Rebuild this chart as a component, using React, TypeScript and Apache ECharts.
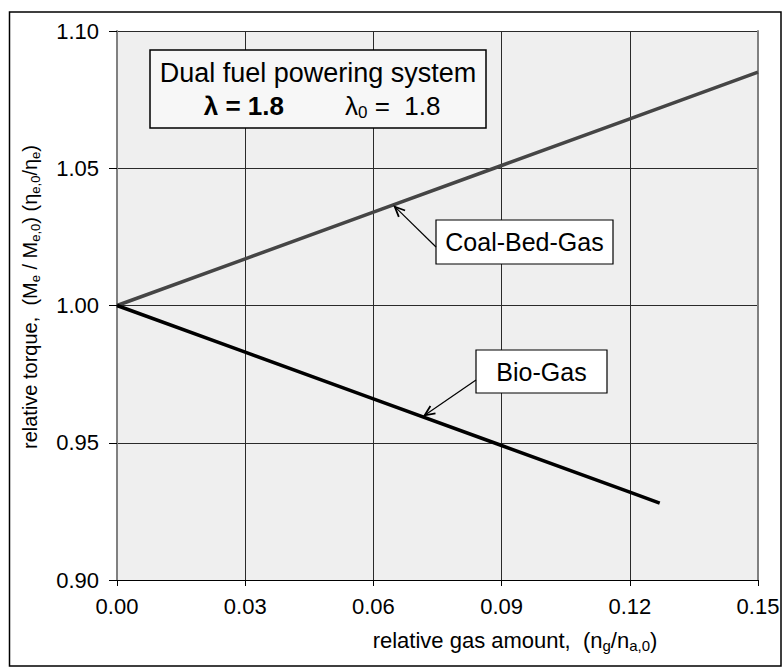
import React, { useEffect, useRef } from "react";
import * as echarts from "echarts";

// ---- data ----
const coalBedX = [0, 0.03, 0.06, 0.09, 0.12, 0.15];
const coalBedY = [1.0, 1.017, 1.034, 1.051, 1.068, 1.085];
const bioGasX = [0, 0.03, 0.06, 0.09, 0.12, 0.127];
const bioGasY = [1.0, 0.983, 0.966, 0.949, 0.932, 0.928];

const xTicks = [0, 0.03, 0.06, 0.09, 0.12, 0.15];
const yTicks = [0.9, 0.95, 1.0, 1.05, 1.1];

// points on the curves that the callout arrows touch
const coalArrowTip = [0.065, 1.036];
const bioArrowTip = [0.072, 0.96];

const FONT = "'Liberation Sans', Arial, Helvetica, sans-serif";

function arrowGraphics(start: number[], tip: number[]) {
  const dx = tip[0] - start[0];
  const dy = tip[1] - start[1];
  const len = Math.sqrt(dx * dx + dy * dy) || 1;
  const ux = dx / len;
  const uy = dy / len;
  const headLen = 11;
  const ang = (24 * Math.PI) / 180;
  const rot = (a: number) => [ux * Math.cos(a) - uy * Math.sin(a), ux * Math.sin(a) + uy * Math.cos(a)];
  const r1 = rot(ang);
  const r2 = rot(-ang);
  return [
    {
      type: "line",
      z: 102,
      silent: true,
      shape: { x1: start[0], y1: start[1], x2: tip[0], y2: tip[1] },
      style: { stroke: "#000", lineWidth: 1.2 },
    },
    {
      type: "polyline",
      z: 102,
      silent: true,
      shape: {
        points: [
          [tip[0] - r1[0] * headLen, tip[1] - r1[1] * headLen],
          [tip[0], tip[1]],
          [tip[0] - r2[0] * headLen, tip[1] - r2[1] * headLen],
        ],
      },
      style: { stroke: "#000", lineWidth: 1.8, fill: "none" },
    },
  ];
}

export default function App() {
  const ref = useRef<HTMLDivElement>(null);

  useEffect(() => {
    if (!ref.current) return;
    const chart = echarts.init(ref.current, undefined, { renderer: "svg" });

    const coalData = coalBedX.map((x, i) => [x, coalBedY[i]]);
    const bioData = bioGasX.map((x, i) => [x, bioGasY[i]]);

    const subY = { fontSize: 13, lineHeight: 14, verticalAlign: "bottom", fontFamily: FONT, fill: "#000" };
    const normY = { fontSize: 20, lineHeight: 24, fontFamily: FONT, fill: "#000" };
    const subX = { fontSize: 15, lineHeight: 15, verticalAlign: "bottom", fontFamily: FONT, fill: "#000" };
    const normX = { fontSize: 22, lineHeight: 26, fontFamily: FONT, fill: "#000" };

    const option: any = {
      animation: false,
      backgroundColor: "#ffffff",
      grid: {
        left: 117,
        right: 25,
        top: 31,
        bottom: 89,
        show: true,
        backgroundColor: "#efefef",
        borderWidth: 0,
      },
      xAxis: {
        type: "value",
        min: xTicks[0],
        max: xTicks[xTicks.length - 1],
        interval: 0.03,
        axisLine: { show: true, onZero: false, lineStyle: { color: "#000", width: 1 } },
        axisTick: { show: true, length: 6, lineStyle: { color: "#000" } },
        axisLabel: {
          fontSize: 22,
          fontFamily: FONT,
          color: "#000",
          margin: 15,
          formatter: (v: number) => v.toFixed(2),
        },
        splitLine: { show: true, lineStyle: { color: "#2a2a2a", width: 1 } },
      },
      yAxis: [
        {
          type: "value",
          min: yTicks[0],
          max: yTicks[yTicks.length - 1],
          interval: 0.05,
          axisLine: { show: true, onZero: false, lineStyle: { color: "#808080", width: 2 } },
          axisTick: { show: true, length: 8, lineStyle: { color: "#000" } },
          axisLabel: {
            fontSize: 22,
            fontFamily: FONT,
            color: "#000",
            margin: 18,
            formatter: (v: number) => v.toFixed(2),
          },
          splitLine: { show: true, lineStyle: { color: "#2a2a2a", width: 1 } },
        },
        {
          type: "value",
          position: "right",
          min: yTicks[0],
          max: yTicks[yTicks.length - 1],
          interval: 0.05,
          axisLine: { show: true, onZero: false, lineStyle: { color: "#808080", width: 2 } },
          axisTick: { show: false },
          axisLabel: { show: false },
          splitLine: { show: false },
        },
      ],
      series: [
        {
          name: "Coal-Bed-Gas",
          type: "line",
          data: coalData,
          symbol: "none",
          lineStyle: { color: "#454545", width: 3.5 },
          z: 5,
        },
        {
          name: "Bio-Gas",
          type: "line",
          data: bioData,
          symbol: "none",
          lineStyle: { color: "#000000", width: 3.5 },
          z: 5,
        },
      ],
      graphic: [
        {
          type: "rect",
          z: 100,
          silent: true,
          shape: { x: 9.5, y: 12, width: 771.5, height: 654 },
          style: { fill: "none", stroke: "#000", lineWidth: 1.5 },
        },
        {
          type: "rect",
          z: 100,
          shape: { x: 150, y: 50, width: 336, height: 78 },
          style: { fill: "#f7f7f7", stroke: "#000", lineWidth: 1.5 },
        },
        {
          type: "text",
          z: 101,
          x: 318,
          y: 73,
          style: {
            text: "Dual fuel powering system",
            fontSize: 27,
            fontFamily: FONT,
            fill: "#000",
            align: "center",
            verticalAlign: "middle",
          },
        },
        {
          type: "text",
          z: 101,
          x: 284,
          y: 106,
          style: {
            text: "λ = 1.8",
            fontSize: 26,
            fontWeight: "bold",
            fontFamily: FONT,
            fill: "#000",
            align: "right",
            verticalAlign: "middle",
          },
        },
        {
          type: "text",
          z: 101,
          x: 345,
          y: 106,
          style: {
            text: "{n|λ}{s|0}{n| =  1.8}",
            align: "left",
            verticalAlign: "middle",
            rich: {
              n: { fontSize: 26, lineHeight: 30, fontFamily: FONT, fill: "#000" },
              s: { fontSize: 17, lineHeight: 18, verticalAlign: "bottom", fontFamily: FONT, fill: "#000" },
            },
          },
        },
        {
          type: "rect",
          z: 100,
          shape: { x: 436, y: 220, width: 177, height: 44 },
          style: { fill: "#ffffff", stroke: "#000", lineWidth: 1.2 },
        },
        {
          type: "text",
          z: 101,
          x: 524.5,
          y: 242,
          style: {
            text: "Coal-Bed-Gas",
            fontSize: 25,
            fontFamily: FONT,
            fill: "#000",
            align: "center",
            verticalAlign: "middle",
          },
        },
        {
          type: "rect",
          z: 100,
          shape: { x: 476, y: 350, width: 131, height: 43 },
          style: { fill: "#ffffff", stroke: "#000", lineWidth: 1.2 },
        },
        {
          type: "text",
          z: 101,
          x: 541.5,
          y: 371.5,
          style: {
            text: "Bio-Gas",
            fontSize: 25,
            fontFamily: FONT,
            fill: "#000",
            align: "center",
            verticalAlign: "middle",
          },
        },
        {
          type: "text",
          z: 101,
          x: 515,
          y: 640,
          style: {
            text: "{n|relative gas amount,  (n}{s|g}{n|/n}{s|a,0}{n|)}",
            align: "center",
            verticalAlign: "middle",
            rich: { n: normX, s: subX },
          },
        },
        {
          type: "text",
          z: 101,
          x: 30,
          y: 297,
          rotation: Math.PI / 2,
          style: {
            text: "{n|relative torque,  (M}{s|e}{n| / M}{s|e,0}{n|) (η}{s|e,0}{n|/η}{s|e}{n|)}",
            align: "center",
            verticalAlign: "middle",
            rich: { n: normY, s: subY },
          },
        },
      ],
    };

    chart.setOption(option);

    // callout arrows: tips are located through the chart's own axes
    const coalTipPx = chart.convertToPixel({ gridIndex: 0 }, coalArrowTip) as number[];
    const bioTipPx = chart.convertToPixel({ gridIndex: 0 }, bioArrowTip) as number[];
    const extra = [
      ...arrowGraphics([436, 247], coalTipPx),
      ...arrowGraphics([476, 380], bioTipPx),
    ];
    chart.setOption({ graphic: [...option.graphic, ...extra] });

    return () => chart.dispose();
  }, []);

  return (
    <div
      ref={ref}
      style={{ position: "absolute", left: 0, top: 0, width: 783, height: 669, background: "#fff" }}
    />
  );
}
